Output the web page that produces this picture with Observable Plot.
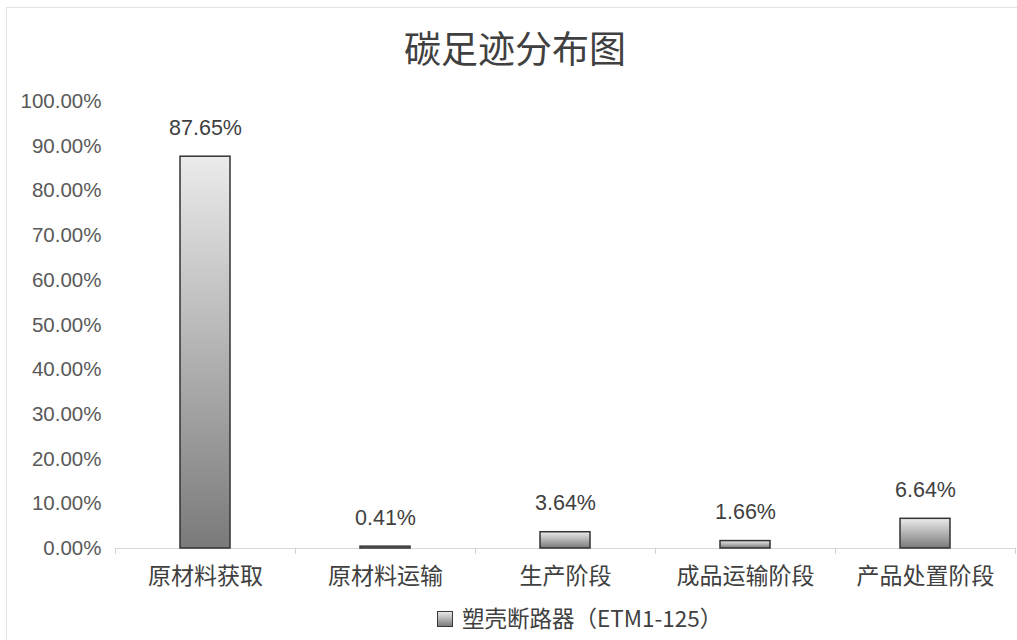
<!DOCTYPE html>
<html>
<head>
<meta charset="utf-8">
<script src="https://cdn.jsdelivr.net/npm/d3@7"></script>
<script src="https://cdn.jsdelivr.net/npm/@observablehq/plot@0.6"></script>
<style>
  html, body { margin: 0; padding: 0; background: #fff; }
  body { width: 1017px; height: 640px; overflow: hidden; position: relative; font-family: "Noto Sans CJK SC", "Liberation Sans", sans-serif; }
  #frame { position: absolute; left: 6px; top: 7px; width: 1030px; height: 660px; border: 1px solid #e3e3e3; box-sizing: border-box; }
  #title { position: absolute; left: 0; top: 0; width: 1030px; height: 85px; text-align: center; line-height: 94px; font-size: 37px; color: #404040; }
  #chart { position: absolute; left: 0; top: 85px; }
  #legend { position: absolute; left: 437px; top: 599px; white-space: nowrap; font-size: 22.5px; color: #404040; line-height: 36px; }
  #legend .sw { display: inline-block; width: 14px; height: 14px; border: 1px solid #3a3a3a; background: linear-gradient(#e8e8e8, #7c7c7c); vertical-align: middle; margin-right: 9px; position: relative; top: -2px; }
</style>
</head>
<body>
<div id="frame"></div>
<div id="title">碳足迹分布图</div>
<div id="chart"></div>
<div id="legend"><span class="sw"></span>塑壳断路器（ETM1-125）</div>
<script>
const categories = ["原材料获取", "原材料运输", "生产阶段", "成品运输阶段", "产品处置阶段"];
const values = [87.65, 0.41, 3.64, 1.66, 6.64];
const yTicks = [0, 10, 20, 30, 40, 50, 60, 70, 80, 90, 100];
const seriesName = "塑壳断路器（ETM1-125）";

const data = categories.map((c, i) => ({category: c, value: values[i]}));

const gradientDefs = () => {
  const defs = d3.create("svg:defs");
  const g = defs.append("linearGradient").attr("id", "barGrad").attr("x1", 0).attr("y1", 0).attr("x2", 0).attr("y2", 1);
  g.append("stop").attr("offset", "0%").attr("stop-color", "#ebebeb");
  g.append("stop").attr("offset", "100%").attr("stop-color", "#7a7a7a");
  return defs.node();
};

const step = 900 / categories.length;

const chart = Plot.plot({
  width: 1017,
  height: 508,
  marginTop: 16,
  marginLeft: 115,
  marginRight: 2,
  marginBottom: 45,
  style: {fontFamily: "'Noto Sans CJK SC', 'Liberation Sans', sans-serif", background: "transparent", overflow: "visible"},
  x: {domain: categories, paddingInner: 0.72, paddingOuter: 0.36, label: null},
  y: {domain: [0, 100], label: null},
  marks: [
    gradientDefs,
    Plot.axisY({ticks: yTicks, tickSize: 0, tickPadding: 14, tickFormat: d => d.toFixed(2) + "%", fontSize: 20.5, fill: "#595959", fontFamily: "'Liberation Sans', sans-serif", label: null}),
    Plot.axisX({tickSize: 0, tickPadding: 19, fontSize: 23, fill: "#404040", label: null}),
    Plot.ruleY([0], {stroke: "#d9d9d9", strokeWidth: 1.2}),
    Plot.ruleX(categories, {x: d => d, dx: -step / 2, y1: 0, y2: -1.3, stroke: "#d0d0d0"}),
    Plot.ruleX([categories[categories.length - 1]], {x: d => d, dx: step / 2, y1: 0, y2: -1.3, stroke: "#d0d0d0"}),
    Plot.barY(data, {x: "category", y: "value", fill: "url(#barGrad)", stroke: "#333", strokeWidth: 1.5}),
    Plot.text(data, {x: "category", y: "value", text: d => d.value.toFixed(2) + "%", dy: -29, fontSize: 21.5, fill: "#404040", fontFamily: "'Liberation Sans', sans-serif"})
  ]
});
document.getElementById("chart").appendChild(chart);
</script>
</body>
</html>
